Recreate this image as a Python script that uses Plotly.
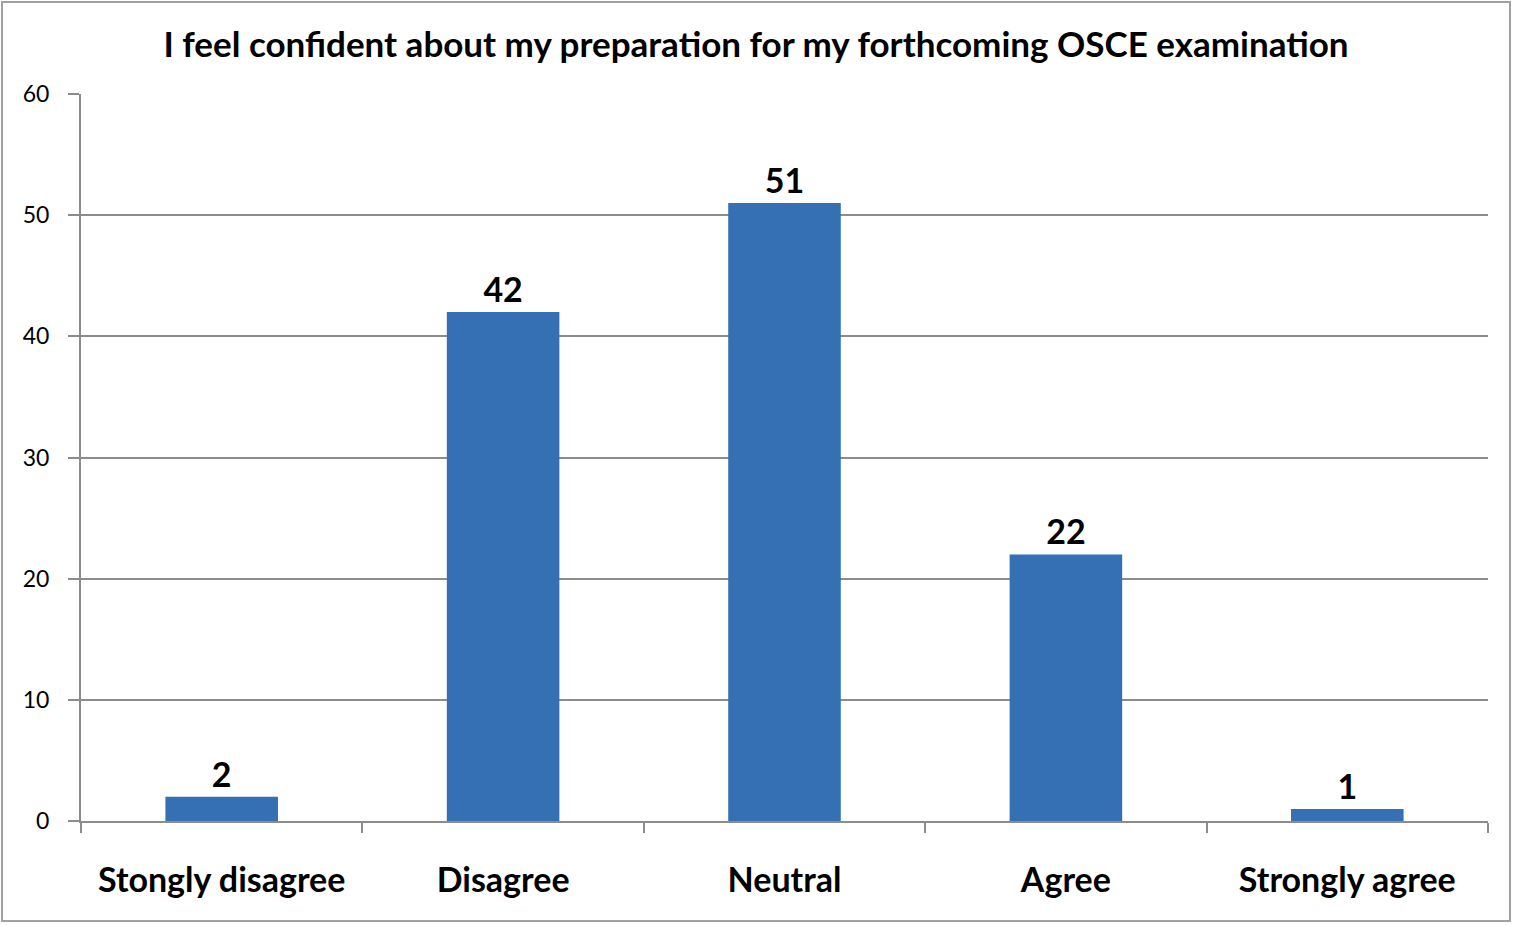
import plotly.graph_objects as go

# survey responses
categories = ["Stongly disagree", "Disagree", "Neutral", "Agree", "Strongly agree"]
counts = [2, 42, 51, 22, 1]

W, H = 1513, 925
L, R, T, B = 81, 25, 94, 104
pw, ph = W - L - R, H - T - B

fig = go.Figure(go.Bar(
    x=categories, y=counts,
    marker=dict(color="#3570B5", line=dict(width=0)),
    width=0.4,
    text=counts, textposition="outside",
    textfont=dict(size=34, color="black", family="Lato", weight="bold"),
    cliponaxis=False,
))

fig.update_layout(
    width=W, height=H,
    margin=dict(l=L, r=R, t=T, b=B),
    paper_bgcolor="white", plot_bgcolor="white",
    font=dict(family="Lato", color="black"),
    showlegend=False,
    title=dict(text="<b>I feel confident about my preparation for my forthcoming OSCE examination</b>",
               x=(756 - L) / pw, xref="paper", xanchor="center",
               y=1 - 45 / H, yref="container", yanchor="middle",
               font=dict(size=35)),
    shapes=[dict(type="rect", xref="paper", yref="paper",
                 x0=(2 - L) / pw, x1=(1510 - L) / pw,
                 y0=-(921 - (T + ph)) / ph, y1=1 + (T - 2) / ph,
                 line=dict(color="#a0a0a0", width=2), layer="below")],
)

fig.update_xaxes(
    showline=True, linecolor="#8c8c8c", linewidth=2,
    ticks="outside", tickson="boundaries", ticklen=10, tickcolor="#8c8c8c", tickwidth=2,
    tickfont=dict(size=34, weight="bold"), ticklabelstandoff=28,
    showgrid=False,
)
fig.update_yaxes(
    range=[0, 60], dtick=10,
    showline=True, linecolor="#8c8c8c", linewidth=2,
    ticks="outside", ticklen=11, tickcolor="#8c8c8c", tickwidth=2,
    showgrid=True, gridcolor="#8c8c8c", gridwidth=2,
    tickfont=dict(size=23), ticklabelstandoff=14,
    zeroline=False,
)

fig.write_html("out.html", config={"displayModeBar": False},
               post_script="document.body.style.margin='0';")
